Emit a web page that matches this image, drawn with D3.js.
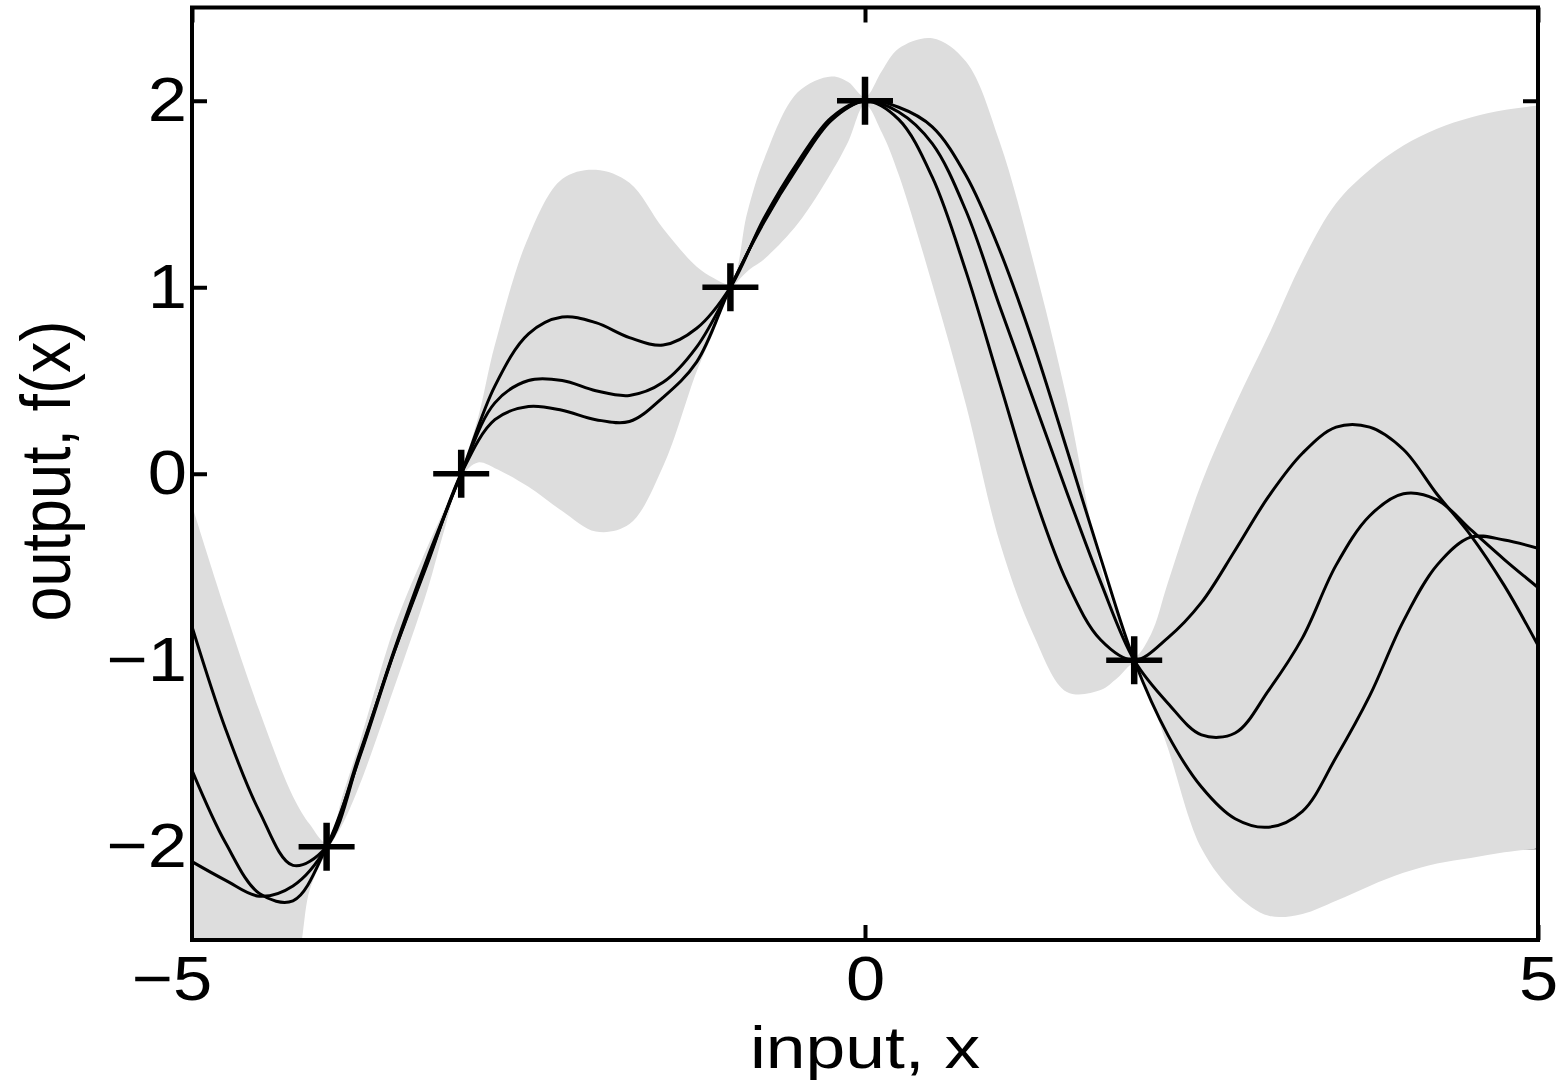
<!DOCTYPE html>
<html>
<head>
<meta charset="utf-8">
<script src="https://cdn.jsdelivr.net/npm/d3@7"></script>
<style>
  html, body { margin: 0; padding: 0; background: #fff; }
  svg { display: block; }
  text { font-family: "Liberation Sans", Arial, Helvetica, sans-serif; fill: #000; }
</style>
</head>
<body>
<svg id="chart" width="1562" height="1080"></svg>
<script>
// Input grid shared by the three posterior sample functions
const xs = [-5, -4.75, -4.5, -4.25, -4, -3.75, -3.5, -3.25, -3, -2.75, -2.5, -2.25, -2, -1.75, -1.5, -1.25,
  -1, -0.75, -0.5, -0.25, 0, 0.25, 0.5, 0.75, 1, 1.25, 1.5, 1.75, 2, 2.25, 2.5, 2.75, 3, 3.25, 3.5, 3.75,
  4, 4.25, 4.5, 4.75, 5];

// Three functions drawn from the posterior
const sample1 = [-0.82, -1.37, -1.81, -2.10, -2.00, -1.50, -0.95, -0.45, 0.00, 0.47, 0.75, 0.84, 0.81, 0.73,
  0.69, 0.78, 1.00, 1.37, 1.67, 1.91, 2.00, 1.90, 1.59, 1.085, 0.49, -0.10, -0.58, -0.89, -1.00, -0.88,
  -0.69, -0.41, -0.12, 0.11, 0.25, 0.25, 0.13, -0.11, -0.33, -0.60, -0.92];
const sample2 = [-1.59, -1.98, -2.25, -2.29, -2.00, -1.51, -0.96, -0.47, 0.00, 0.38, 0.50, 0.50, 0.445, 0.42,
  0.49, 0.68, 1.00, 1.36, 1.655, 1.90, 2.00, 1.94, 1.77, 1.41, 0.90, 0.40, -0.10, -0.58, -1.00, -1.23,
  -1.40, -1.39, -1.16, -0.88, -0.49, -0.225, -0.107, -0.14, -0.30, -0.46, -0.61];
const sample3 = [-2.08, -2.18, -2.265, -2.21, -2.00, -1.49, -0.96, -0.48, 0.00, 0.29, 0.36, 0.34, 0.29, 0.28,
  0.41, 0.60, 1.00, 1.35, 1.645, 1.895, 2.00, 1.965, 1.86, 1.60, 1.20, 0.70, 0.13, -0.45, -1.00, -1.40,
  -1.68, -1.85, -1.895, -1.81, -1.52, -1.19, -0.79, -0.49, -0.34, -0.355, -0.40];

// Shaded region: twice the standard deviation around the posterior mean
const bandX = [-5, -4.75, -4.5, -4.25, -4.125, -4, -3.875, -3.75, -3.5, -3.25, -3.125, -3, -2.875, -2.75,
  -2.5, -2.25, -2, -1.75, -1.5, -1.25, -1.125, -1, -0.875, -0.75, -0.5, -0.25, -0.125, 0, 0.125, 0.25,
  0.5, 0.75, 1, 1.25, 1.5, 1.75, 1.875, 2, 2.125, 2.25, 2.5, 2.75, 3, 3.25, 3.5, 3.75, 4, 4.25, 4.5, 4.75, 5];
const bandUpper = [-0.17, -0.74, -1.27, -1.73, -1.88, -1.98, -1.71, -1.43, -0.83, -0.39, -0.19, 0.02, 0.30,
  0.69, 1.27, 1.58, 1.63, 1.56, 1.315, 1.11, 1.05, 1.02, 1.40, 1.685, 2.045, 2.13, 2.10, 2.02, 2.16, 2.28,
  2.335, 2.21, 1.78, 1.14, 0.40, -0.50, -0.76, -0.98, -0.86, -0.585, -0.05, 0.37, 0.745, 1.14, 1.45, 1.63,
  1.76, 1.85, 1.91, 1.95, 1.975];
const bandLower = [-2.95, -2.95, -2.85, -2.68, -2.23, -2.03, -1.87, -1.66, -1.15, -0.62, -0.30, -0.02, 0.06,
  0.03, -0.07, -0.20, -0.31, -0.27, 0.04, 0.55, 0.76, 0.98, 1.085, 1.15, 1.34, 1.615, 1.78, 1.98, 1.83,
  1.605, 1.015, 0.37, -0.365, -0.86, -1.17, -1.16, -1.095, -1.02, -1.21, -1.47, -2.01, -2.25, -2.37,
  -2.36, -2.29, -2.21, -2.14, -2.09, -2.06, -2.03, -2.01];

// Observations
const obsX = [-4, -3, -1, 0, 2];
const obsY = [-2, 0, 1, 2, -1];

// Axis ticks and titles
const xTicks = [-5, 0, 5];
const yTicks = [-2, -1, 0, 1, 2];
const xTitle = "input, x";
const yTitle = "output, f(x)";

const plotLeft = 192, plotRight = 1538, plotTop = 7.5, plotBottom = 940;
const STRETCH = 1.12;
const FONT = 63;

const svg = d3.select("#chart");
const x = d3.scaleLinear().domain([-5, 5]).range([plotLeft, plotRight]);
const y = d3.scaleLinear().domain([-2.5, 2.5]).range([plotBottom, plotTop]);

svg.append("defs").append("clipPath").attr("id", "plot-clip")
  .append("rect").attr("x", plotLeft).attr("y", plotTop)
  .attr("width", plotRight - plotLeft).attr("height", plotBottom - plotTop);

// Tick marks (drawn first so the shaded band sits over them)
const tickStyle = g => {
  g.select(".domain").remove();
  g.selectAll(".tick line").attr("stroke", "#000").attr("stroke-width", 4);
  g.selectAll("text").attr("font-size", FONT).attr("font-family", null);
};

const gLeft = svg.append("g").attr("transform", `translate(${plotLeft},0)`)
  .call(d3.axisLeft(y).tickValues(yTicks).tickSizeInner(-15).tickSizeOuter(0).tickPadding(4.5)
    .tickFormat(d3.format("d")))
  .call(tickStyle);
gLeft.selectAll("text").attr("transform", `scale(${STRETCH},1)`);

const gBottom = svg.append("g").attr("transform", `translate(0,${plotBottom})`)
  .call(d3.axisBottom(x).tickValues(xTicks).tickSizeInner(-15).tickSizeOuter(0).tickPadding(14.8)
    .tickFormat(d3.format("d")))
  .call(tickStyle);
// Center the digit itself on the tick, with any minus sign hanging to its left
gBottom.selectAll("text").each(function (d) {
  const t = d3.select(this);
  const digits = String(Math.abs(d));
  const probe = svg.append("text").attr("font-size", FONT).text(digits);
  const w = probe.node().getComputedTextLength();
  probe.remove();
  t.attr("text-anchor", "end").attr("x", w / 2).attr("transform", `scale(${STRETCH},1)`);
});

svg.append("g").attr("transform", `translate(0,${plotTop})`)
  .call(d3.axisTop(x).tickValues(xTicks).tickSizeInner(-15).tickSizeOuter(0).tickFormat(() => ""))
  .call(tickStyle);
svg.append("g").attr("transform", `translate(${plotRight},0)`)
  .call(d3.axisRight(y).tickValues(yTicks).tickSizeInner(-15).tickSizeOuter(0).tickFormat(() => ""))
  .call(tickStyle);

const plot = svg.append("g").attr("clip-path", "url(#plot-clip)");

// Confidence band
const bandData = bandX.map((bx, i) => ({ x: bx, lo: bandLower[i], hi: bandUpper[i] }));
plot.append("path")
  .datum(bandData)
  .attr("fill", "#dddddd")
  .attr("stroke", "none")
  .attr("d", d3.area()
    .x(d => x(d.x))
    .y0(d => y(d.lo))
    .y1(d => y(d.hi))
    .curve(d3.curveCatmullRom.alpha(0.5)));

// Sample functions
const line = d3.line().x(d => x(d[0])).y(d => y(d[1])).curve(d3.curveCatmullRom.alpha(0.5));
[sample1, sample2, sample3].forEach(s => {
  plot.append("path")
    .datum(xs.map((v, i) => [v, s[i]]))
    .attr("fill", "none")
    .attr("stroke", "#000")
    .attr("stroke-width", 3)
    .attr("stroke-linejoin", "round")
    .attr("d", line);
});

// Observation markers (+)
const marks = svg.append("g");
obsX.forEach((ox, i) => {
  const cx = x(ox), cy = y(obsY[i]);
  marks.append("line").attr("x1", cx - 28).attr("x2", cx + 28).attr("y1", cy).attr("y2", cy)
    .attr("stroke", "#000").attr("stroke-width", 5.5);
  marks.append("line").attr("x1", cx).attr("x2", cx).attr("y1", cy - 24).attr("y2", cy + 24)
    .attr("stroke", "#000").attr("stroke-width", 6.5);
});

// Axes box
svg.append("rect")
  .attr("x", plotLeft).attr("y", plotTop)
  .attr("width", plotRight - plotLeft).attr("height", plotBottom - plotTop)
  .attr("fill", "none").attr("stroke", "#000").attr("stroke-width", 4);

// Axis titles
svg.append("text")
  .attr("transform", `translate(${(plotLeft + plotRight) / 2},1067.5) scale(1.19,1)`)
  .attr("text-anchor", "middle")
  .attr("font-size", 60)
  .text(xTitle);

svg.append("text")
  .attr("transform", `translate(70,471) scale(${STRETCH},1) rotate(-90)`)
  .attr("text-anchor", "middle")
  .attr("font-size", FONT)
  .text(yTitle);
</script>
</body>
</html>
